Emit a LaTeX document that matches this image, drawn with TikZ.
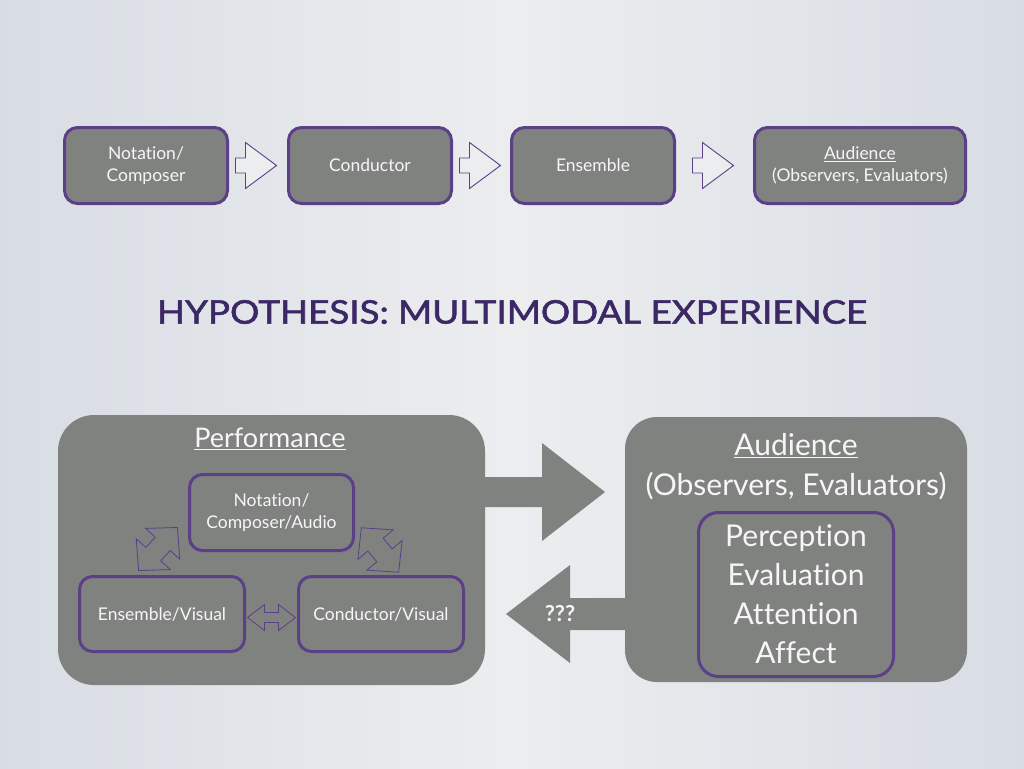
\documentclass[tikz,border=0pt]{standalone}
\usepackage{fontspec}
\setmainfont{Lato}[Ligatures=NoCommon]
\newfontfamily\titlefont{Lato}[Ligatures=NoCommon, FakeBold=1.6]
\usetikzlibrary{calc}
\definecolor{boxgray}{HTML}{808280}
\definecolor{bpurple}{HTML}{5B3F87}
\definecolor{tpurple}{HTML}{3B2865}
\definecolor{bgA}{HTML}{D8DDE4}
\definecolor{bgB}{HTML}{ECEDEF}
\definecolor{txtw}{HTML}{F6F6F6}
\begin{document}
\begin{tikzpicture}[x=1pt,y=-1pt,
  box/.style={draw=bpurple, line width=3pt, fill=boxgray, rounded corners=13pt,
    text=txtw, align=center, inner sep=0pt, font=\fontsize{17.5}{22}\selectfont},
  topbox/.style={box, minimum width=163pt, minimum height=76pt},
  bigbox/.style={fill=boxgray, rounded corners=36pt, inner sep=0pt},
  hollow/.style={draw=bpurple, line width=0.9pt, fill=bgB, line join=miter},
  thinarr/.style={draw=bpurple, line width=0.8pt, fill=boxgray, line join=miter},
  bigtxt/.style={text=txtw, align=center, inner sep=0pt, font=\fontsize{30}{39}\selectfont},
]
\useasboundingbox (0,0) rectangle (1024,768);
\shade[left color=bgA, right color=bgA, middle color=bgB] (0,0) rectangle (1024,768);

% ---------- top row ----------
\node[topbox] (n1) at (146,165.5) {Notation/\\Composer};
\node[topbox] (n2) at (370,165.5) {Conductor};
\node[topbox] (n3) at (593,165.5) {Ensemble};
\node[box, minimum width=211pt, minimum height=76pt] (n4) at (860,165.5) {\underline{Audience}\\(Observers, Evaluators)};

\foreach \a in {n1, n2} {
  \draw[hollow] ($(\a.east)+(6.5,0)$) ++(0,-7.5) -- ++(10,0) -- ++(0,-15.5) -- ++(31,23)
    -- ++(-31,23) -- ++(0,-15.5) -- ++(-10,0) -- cycle;
}
\draw[hollow] ($(n3.east)+(16.5,0)$) ++(0,-7.5) -- ++(10,0) -- ++(0,-15.5) -- ++(31,23)
    -- ++(-31,23) -- ++(0,-15.5) -- ++(-10,0) -- cycle;

% ---------- title ----------
\node[text=tpurple, inner sep=0pt] (title) at (512,312)
  {\resizebox{710pt}{23.5pt}{\titlefont\fontsize{32}{38}\selectfont HYPOTHESIS: MULTIMODAL EXPERIENCE}};

% ---------- performance ----------
\node[bigbox, minimum width=427pt, minimum height=270pt] (P) at (271.5,550) {};
\node[text=txtw, inner sep=0pt, font=\fontsize{27}{32}\selectfont] (ptitle) at (270,439) {\underline{Performance}};
\node[box, minimum width=164pt, minimum height=76pt] (N) at (271.5,512.5) {Notation/\\Composer/Audio};
\node[box, minimum width=165pt, minimum height=75pt] (E) at (162,614) {Ensemble/Visual};
\node[box, minimum width=165pt, minimum height=75pt] (C) at (381,614) {Conductor/Visual};

% double arrows
\begin{scope}[shift={(158,549)}, rotate=48]
  \draw[thinarr] (-29,0) -- (-7,-23) -- (-7,-10) -- (7,-10) -- (7,-23) -- (29,0)
    -- (7,23) -- (7,10) -- (-7,10) -- (-7,23) -- cycle;
\end{scope}
\begin{scope}[shift={(380,550)}, rotate=-50]
  \draw[thinarr] (-29,0) -- (-7,-23) -- (-7,-10) -- (7,-10) -- (7,-23) -- (29,0)
    -- (7,23) -- (7,10) -- (-7,10) -- (-7,23) -- cycle;
\end{scope}
\coordinate (ec) at ($(E.east)!0.5!(C.west)+(0,3.5)$);
\begin{scope}[shift={(ec)}]
  \draw[thinarr] (-24,0) -- (-7,-13) -- (-7,-5) -- (7,-5) -- (7,-13) -- (24,0)
    -- (7,13) -- (7,5) -- (-7,5) -- (-7,13) -- cycle;
\end{scope}

% ---------- audience ----------
\node[bigbox, rounded corners=32pt, minimum width=342pt, minimum height=265pt] (Q) at (796,549.5) {};
\node[bigtxt] (qt) at (796,446) {\underline{Audience}};
\node[bigtxt] (qs) at (796,486) {(Observers, Evaluators)};
\node[box, rounded corners=20pt, minimum width=195pt, minimum height=164pt, font=\fontsize{30}{39}\selectfont]
  (I) at (796,594.5) {Perception\\Evaluation\\Attention\\Affect};

% block arrows
\fill[boxgray] (483,477) -- (542,477) -- (542,443) -- (605,492) -- (542,541) -- (542,507)
  -- (483,507) -- cycle;
\fill[boxgray] (627,598) -- (570,598) -- (570,565) -- (506,614) -- (570,663) -- (570,630)
  -- (627,630) -- cycle;
\node[text=txtw, inner sep=0pt, font=\fontsize{22}{26}\bfseries\selectfont] (qq) at (560,614) {???};
\end{tikzpicture}
\end{document}
